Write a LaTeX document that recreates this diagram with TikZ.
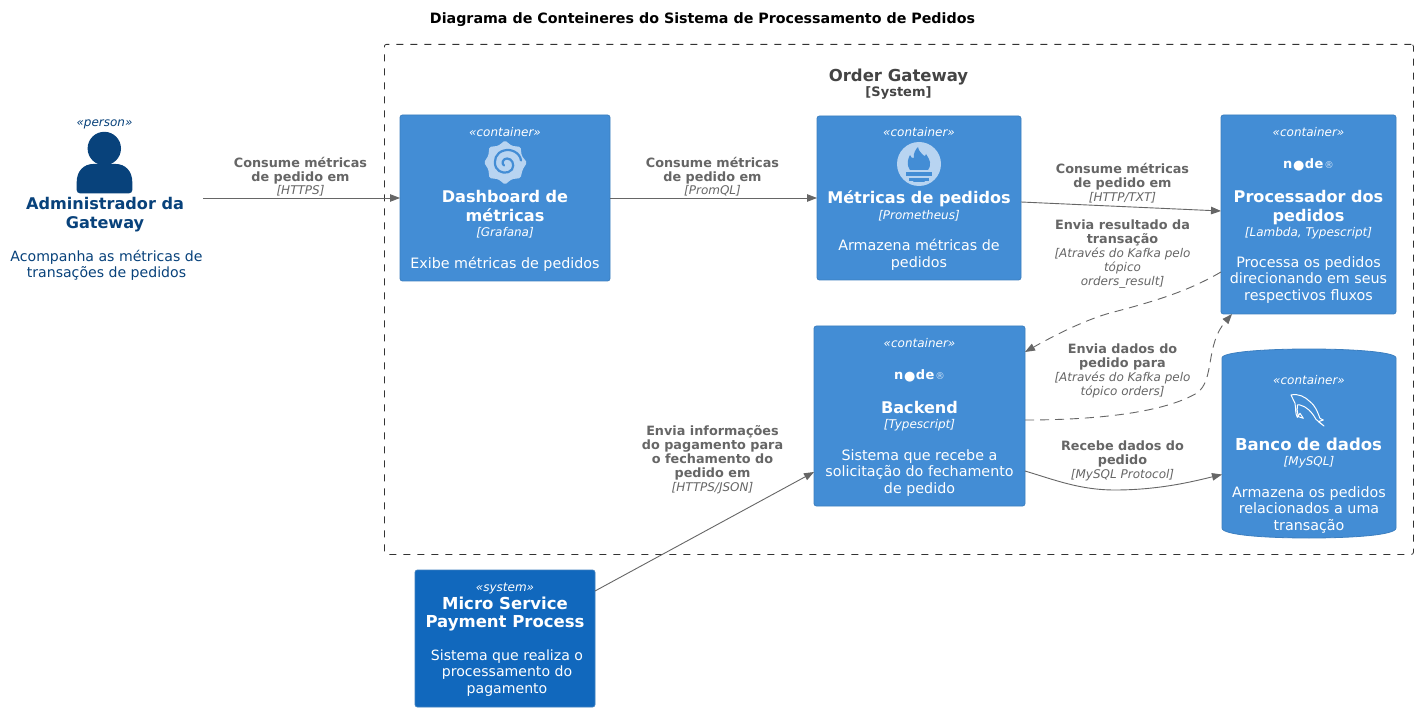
\documentclass[tikz,border=0pt]{standalone}
\usepackage{fontspec}
\setmainfont{DejaVu Sans}
\usetikzlibrary{arrows.meta}
\definecolor{contc}{HTML}{438DD5}
\definecolor{contb}{HTML}{3C7FC0}
\definecolor{sysc}{HTML}{1168BD}
\definecolor{sysb}{HTML}{3C7FC0}
\definecolor{persc}{HTML}{08427B}
\definecolor{linec}{HTML}{666666}
\definecolor{iconc}{HTML}{B8D4F1}
\definecolor{bndc}{HTML}{444444}
\newcommand{\fsz}[1]{\fontsize{#1}{#1}\selectfont}
\tikzset{
  txt/.style={inner sep=0pt,outer sep=0pt,align=center,text=white},
  stereo/.style={txt,font=\fsz{12}\itshape},
  ttl/.style={txt,font=\fsz{16.1}\bfseries,align=center,execute at begin node=\setlength{\baselineskip}{18.3pt}},
  ttlb/.style={txt,font=\fsz{16.5}\bfseries,align=center,execute at begin node=\setlength{\baselineskip}{18.8pt}},
  tech/.style={txt,font=\fsz{12}\itshape},
  desc/.style={txt,font=\fsz{14.3}\selectfont,execute at begin node=\setlength{\baselineskip}{16.5pt}},
  box/.style={draw=contb,fill=contc,rounded corners=2.5pt,line width=.8pt,inner sep=0pt,outer sep=0pt,anchor=north west},
  conn/.style={draw=linec,line width=.9pt,-{Triangle[length=10pt,width=7.5pt]}},
  dconn/.style={conn,dash pattern=on 9pt off 6pt},
  lbl/.style={inner sep=0pt,outer sep=0pt,align=center,text=linec,font=\fsz{12.8}\bfseries,execute at begin node=\setlength{\baselineskip}{14pt}},
  lblit/.style={inner sep=0pt,outer sep=0pt,align=center,text=linec,font=\fsz{12}\itshape,execute at begin node=\setlength{\baselineskip}{14pt}},
  nodelogo/.style={txt,font=\fsz{13}\bfseries}
}
\newcommand{\nodeicon}[3]{%
 \node[nodelogo,text=white] (#3) at (#1,#2) {n\hspace{.6pt}\raisebox{-.3pt}{●}\hspace{.6pt}d\hspace{.3pt}e\hspace{1pt}\raisebox{0pt}{\fsz{9.5}\mdseries\textcolor{iconc!70!white}{®}}};}
\begin{document}
\begin{tikzpicture}[x=1pt,y=-1pt]
\useasboundingbox (0,0) rectangle (1417,711);
\fill[white] (0,0) rectangle (1417,711);
\node[inner sep=0pt,font=\fsz{14.25}\bfseries,text=black] (title) at (702.5,19.5) {Diagrama de Conteineres do Sistema de Processamento de Pedidos};

% boundary
\node[draw=black!80,line width=.8pt,dash pattern=on 7pt off 7pt,rounded corners=2pt,minimum width=1029pt,minimum height=510pt,inner sep=0pt,anchor=north west] (bnd) at (384,44) {};
\node[inner sep=0pt,font=\fsz{16.5}\bfseries,text=bndc] (bndt) at (898.5,77) {Order Gateway};
\node[inner sep=0pt,font=\fsz{13}\bfseries,text=bndc] (bnds) at (898.5,92.5) {[System]};

% boxes
\node[box,minimum width=210pt,minimum height=166pt] (dash) at (400,115) {};
\node[box,minimum width=204pt,minimum height=164pt] (prom) at (817,116) {};
\node[box,minimum width=175pt,minimum height=199pt] (proc) at (1221,115) {};
\node[box,minimum width=211pt,minimum height=180pt] (back) at (814,326) {};
\node[box,draw=sysb,fill=sysc,minimum width=180pt,minimum height=137pt] (micro) at (415,570) {};
\node[inner sep=0pt,outer sep=0pt,minimum width=174pt,minimum height=189pt,anchor=north west] (db) at (1222,349) {};
\path[fill=contc,draw=contb,line width=.8pt] (db.west |- 0,358) .. controls (1222,352) and (1265,349) .. (1309,349) .. controls (1353,349) and (1396,352) .. (db.east |- 0,358) -- (db.east |- 0,528) .. controls (1396,535) and (1353,538) .. (1309,538) .. controls (1265,538) and (1222,535) .. (db.west |- 0,528) -- cycle;
\node[inner sep=0pt,outer sep=0pt,minimum width=198pt,minimum height=170pt,anchor=north west] (admin) at (5,113) {};

% person
\fill[persc] (104.3,148.5) circle (16.7);
\fill[persc] (76.7,190) -- (76.7,182) .. controls (76.7,171) and (84,164) .. (93,164) -- (116,164) .. controls (125,164) and (132.3,171) .. (132.3,182) -- (132.3,190) .. controls (132.3,192) and (131,193.3) .. (129,193.3) -- (80,193.3) .. controls (78,193.3) and (76.7,192) .. (76.7,190) -- cycle;
\node[stereo,text=persc] (adm1) at (104.5,124) {«person»};
\node[ttl,text=persc] (adm2) at (105,214.5) {Administrador da\\Gateway};
\node[desc,text=persc,font=\fsz{14.1}] (adm3) at (106.5,265.5) {Acompanha as métricas de\\transações de pedidos};

% dashboard
\node[stereo] (d1) at (505,132) {«container»};
\begin{scope}[shift={(505,162.5)}]
\fill[iconc,rounded corners=1.5pt] (22:19) -- (0:22) -- (-22:18) -- (-45:22) -- (-68:18) -- (-90:22) -- (-112:18) -- (-135:22) -- (-158:18) -- (180:21) -- (158:18) -- (135:22) -- (112:18) -- (90:22) -- (68:18) -- (45:22) -- cycle;
\draw[contc,line width=2.2pt,line cap=round] (16,-2) .. controls (15,-10) and (6,-14) .. (-1,-12) .. controls (-9,-10) and (-12,-2) .. (-9,5) .. controls (-6,11) and (3,12) .. (7,7) .. controls (10,2) and (7,-4) .. (2,-4) .. controls (-2,-4) and (-4,1) .. (-1,3);
\end{scope}
\node[ttl] (d2) at (505,206) {Dashboard de\\métricas};
\node[tech] (d3) at (505,232.5) {[Grafana]};
\node[desc] (d4) at (505,264.5) {Exibe métricas de pedidos};

% prometheus
\node[stereo] (p1) at (919,132.5) {«container»};
\begin{scope}[shift={(919,164)}]
\fill[iconc] (0,0) circle (22);
\fill[contc] (-9,6) .. controls (-13,0) and (-11,-5) .. (-9,-9) .. controls (-8,-6) and (-7,-6) .. (-5,-6) .. controls (-6,-11) and (-3,-15) .. (-1,-17) .. controls (0,-12) and (2,-12) .. (4,-9) .. controls (5,-8) and (6,-7) .. (7,-10) .. controls (11,-4) and (13,0) .. (9,6) -- cycle;
\fill[contc] (-13,8.5) rectangle (13,12);
\fill[contc] (-10,14) rectangle (10,17);
\fill[contc] (-6,18) -- (6,18) arc (0:-180:6 and 3) -- cycle;
\end{scope}
\node[ttl] (p2) at (919,198.5) {Métricas de pedidos};
\node[tech] (p3) at (919,215.5) {[Prometheus]};
\node[desc] (p4) at (919,255) {Armazena métricas de\\pedidos};

% processor
\node[stereo] (r1) at (1308.5,132) {«container»};
\nodeicon{1308.5}{165}{ricon}
\node[ttl] (r2) at (1308.5,207.5) {Processador dos\\pedidos};
\node[tech] (r3) at (1308.5,233) {[Lambda, Typescript]};
\node[desc] (r4) at (1308.5,280) {Processa os pedidos\\direcionando em seus\\respectivos fluxos};

% backend
\node[stereo] (b1) at (919.5,343) {«container»};
\nodeicon{919.5}{376}{bicon}
\node[ttl] (b2) at (919.5,407.5) {Backend};
\node[tech] (b3) at (919.5,425) {[Typescript]};
\node[desc] (b4) at (919.5,473) {Sistema que recebe a\\solicitação do fechamento\\de pedido};

% database
\node[stereo] (m1) at (1309,380) {«container»};
\begin{scope}[shift={(1210,340)},x=.3333pt,y=-.3333pt]
\draw[white,line width=1pt,line join=round] (243,165) .. controls (265,160) and (285,170) .. (300,185) .. controls (318,200) and (322,215) .. (330,235) -- (340,240) -- (325,245) -- (342,258) -- (318,238) .. controls (305,215) and (290,200) .. (270,195) -- (262,195) .. controls (260,205) and (262,215) .. (265,230) -- (280,235) -- (270,220) -- (262,232) .. controls (255,220) and (258,205) .. (255,190) -- cycle;
\end{scope}
\node[ttlb] (m2) at (1308.5,444.5) {Banco de dados};
\node[tech] (m3) at (1309,462) {[MySQL]};
\node[desc] (m4) at (1309,509.5) {Armazena os pedidos\\relacionados a uma\\transação};

% micro service
\node[stereo] (s1) at (505,588.5) {«system»};
\node[ttlb] (s2) at (505,614) {Micro Service\\Payment Process};
\node[desc,font=\fsz{14.1}] (s3) at (507,673) {Sistema que realiza o\\processamento do\\pagamento};

% connectors
\draw[conn] (admin.east) -- (dash.west);
\draw[conn] (dash.east) -- (prom.west);
\draw[conn] ([yshift=-4pt]prom.east) -- ([yshift=3.5pt]proc.west);
\draw[dconn] ([yshift=-57.5pt]proc.west) .. controls (1190,290) and (1160,300) .. (1110,313) .. controls (1085,320) and (1055,335) .. ([yshift=64pt]back.east);
\draw[dconn] ([yshift=-4pt]back.east) .. controls (1100,420) and (1165,412) .. (1197,393) .. controls (1215,380) and (1205,345) .. ([xshift=-76.5pt]proc.south);
\draw[conn] ([yshift=-55pt]back.east) .. controls (1055,480) and (1080,490) .. (1115,490) .. controls (1160,490) and (1195,481) .. ([yshift=-31pt]db.west);
\draw[conn] ([yshift=-21pt]micro.north east) -- ([yshift=-56pt]back.west);

% labels
\node[lbl] (l1a) at (300.5,170.5) {Consume métricas\\de pedido em};
\node[lblit] (l1b) at (300.5,191) {[HTTPS]};
\node[lbl] (l2a) at (712.5,170.5) {Consume métricas\\de pedido em};
\node[lblit] (l2b) at (712.5,191) {[PromQL]};
\node[lbl] (l3a) at (1122.5,176.5) {Consume métricas\\de pedido em};
\node[lblit] (l3b) at (1122.5,197.5) {[HTTP/TXT]};
\node[lbl] (l4a) at (1122.5,232.5) {Envia resultado da\\transação};
\node[lblit] (l4b) at (1122.5,268) {[Através do Kafka pelo\\tópico\\orders\_result]};
\node[lbl] (l5a) at (1122.5,356.5) {Envia dados do\\pedido para};
\node[lblit] (l5b) at (1122.5,385) {[Através do Kafka pelo\\tópico orders]};
\node[lbl] (l6a) at (1122.5,453.5) {Recebe dados do\\pedido};
\node[lblit] (l6b) at (1122.5,475) {[MySQL Protocol]};
\node[lbl] (l7a) at (712.5,452.5) {Envia informações\\do pagamento para\\o fechamento do\\pedido em};
\node[lblit] (l7b) at (712.5,488) {[HTTPS/JSON]};
\end{tikzpicture}
\end{document}
